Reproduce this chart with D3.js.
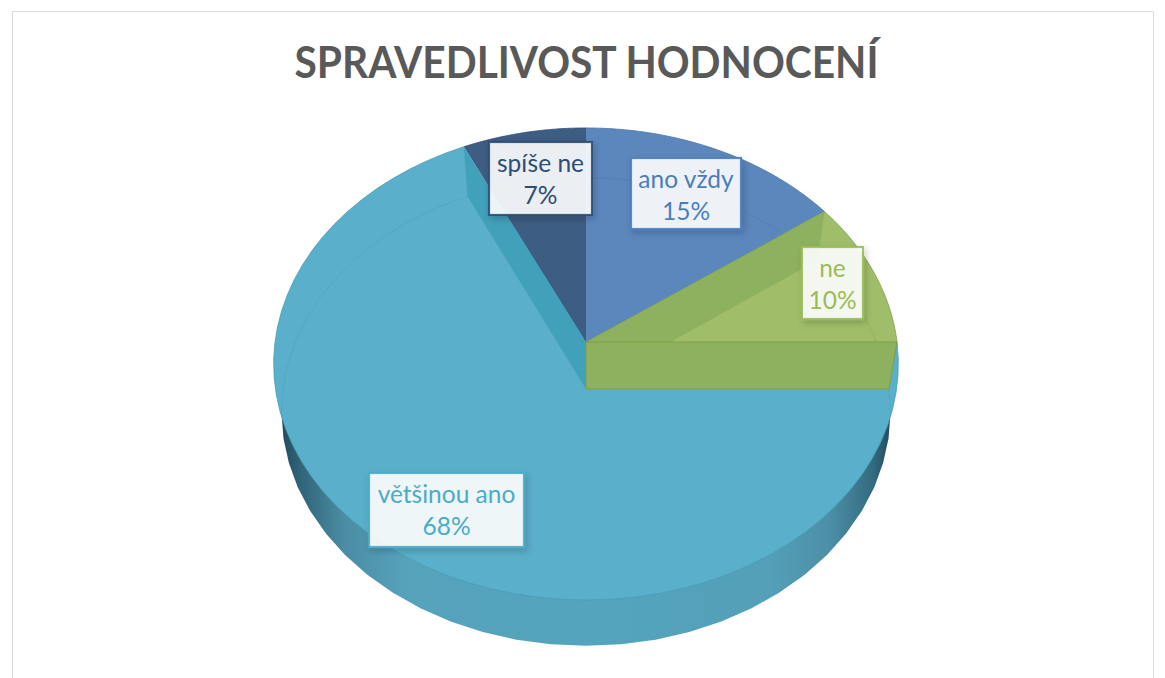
<!DOCTYPE html>
<html><head><meta charset="utf-8">
<script src="https://cdn.jsdelivr.net/npm/d3@7/dist/d3.min.js"></script>
<style>html,body{margin:0;padding:0;background:#fff}svg{display:block}text{font-family:Lato,"Open Sans",sans-serif}</style>
</head><body><svg id="c" width="1165" height="678"></svg>
<script>
const title = "SPRAVEDLIVOST HODNOCENÍ";
const categories = ["ano vždy","ne","většinou ano","spíše ne"];
const values = [15,10,68,7];
const topColors = ["#5c87bd","#a0be69","#5aafca","#3e5d82"];
const wallColors = ["#557fb3","#8db15f","#41a0ba","#3e5d82"];
const edgeColors = ["#4a76ab","#7f9f45","#4a9db6","#2f4f78"];
const labelColors = ["#4a7ebb","#9bbb59","#4bacc6","#2c4d75"];
const labelBoxes = [[631,158,110,71],[802,247,61,72],[369,473,155,74],[489,142,103,73]];

const svg = d3.select("#c");
const defs = svg.append("defs");
const H = 678;

// projective planes of the tilted disc: top surface and bottom surface
const cx = 586;
const topPlane = {cy:342, b:311, a:234, k:0.0932};
const botPlane = {cy:389, b:303, a:231.7, k:0.098};
const project = (p, angle, r=1) => {
  const u = r*Math.sin(angle), v = r*Math.cos(angle), d = 1+p.k*v;
  return [cx + p.b*u/d, p.cy - p.a*v/d];
};
const pie = d3.pie().value(d=>d).sort(null);
const arcs = pie(values);
const line = d3.line();
const rim = (p,a0,a1) => d3.range(0,61).map(i=>project(p,a0+(a1-a0)*i/60));
const wedgePath = (p,a0,a1) => line([project(p,0,0),...rim(p,a0,a1)])+"Z";

// frame
svg.append("path").attr("d",`M12.5,${H}V11.5H1153.5V${H}`).attr("fill","none").attr("stroke","#d9d9d9").attr("stroke-width",1);

// title
svg.append("text").attr("x",586.5).attr("y",77.5).attr("text-anchor","middle")
  .attr("font-size",44).attr("font-weight",700).attr("fill","#595959")
  .attr("textLength",584).attr("lengthAdjust","spacingAndGlyphs").text(title);

// outer wall gradient
const grad = defs.append("linearGradient").attr("id","wall").attr("gradientUnits","userSpaceOnUse")
  .attr("x1",cx-305).attr("x2",cx+305).attr("y1",0).attr("y2",0);
[[0,"#234a5c"],[0.03,"#2f6378"],[0.1,"#4a8ba2"],[0.2,"#55a2bb"],[0.5,"#54a4bd"],[0.8,"#53a0b8"],[0.9,"#4c8fa6"],[0.97,"#336b80"],[1,"#234a5c"]]
  .forEach(([o,c])=>grad.append("stop").attr("offset",o).attr("stop-color",c));
svg.append("path").attr("d",line(rim(botPlane,0,2*Math.PI))+"Z").attr("fill","url(#wall)");

// top surfaces
const clipG = defs.append("g");
arcs.forEach((d,i)=>{
  clipG.append("clipPath").attr("id","top"+i).append("path").attr("d",wedgePath(topPlane,d.startAngle,d.endAngle));
});
svg.selectAll("path.top").data(arcs).join("path").attr("class","top")
  .attr("d",d=>wedgePath(topPlane,d.startAngle,d.endAngle))
  .attr("fill",(d,i)=>topColors[i]);

// bottom disc seen through the translucent top
const ghost = (a0,a1,col,i) => svg.append("path").attr("d",line(rim(botPlane,a0,a1)))
  .attr("fill","none").attr("stroke",col).attr("stroke-width",1).attr("clip-path",`url(#top${i})`);
arcs.forEach((d,i)=>ghost(d.startAngle,d.endAngle,d3.color(edgeColors[i]).copy({opacity:0.35}),i));

// radial walls visible through the tops
const radial = (angle)=>{
  const a=project(topPlane,angle,0), b=project(topPlane,angle), c=project(botPlane,angle), e=project(botPlane,angle,0);
  return line([a,b,c,e])+"Z";
};
svg.append("path").attr("d",radial(arcs[1].startAngle)).attr("fill",wallColors[1]).attr("clip-path","url(#top1)");
svg.append("path").attr("d",radial(arcs[2].endAngle)).attr("fill",wallColors[2]).attr("clip-path","url(#top2)");
svg.append("path").attr("d",radial(arcs[1].endAngle)).attr("fill",wallColors[1]).attr("stroke",edgeColors[1]).attr("stroke-width",1);

// slice edges
arcs.forEach((d,i)=>{
  svg.append("path").attr("d",line(rim(topPlane,d.startAngle,d.endAngle))).attr("fill","none")
    .attr("stroke",edgeColors[i]).attr("stroke-width",1).attr("stroke-opacity",0.8);
});
svg.append("path").attr("d",line([project(topPlane,arcs[1].startAngle),project(topPlane,0,0)]))
  .attr("stroke",edgeColors[1]).attr("stroke-opacity",0.7).attr("fill","none");

// labels
const shadow = defs.append("filter").attr("id","sh").attr("x","-20%").attr("y","-20%").attr("width","150%").attr("height","150%");
shadow.append("feDropShadow").attr("dx",2).attr("dy",3).attr("stdDeviation",3.5).attr("flood-color","#000").attr("flood-opacity",0.22);
const fmt = d3.format(".0%");
const total = d3.sum(values);
const labels = svg.selectAll("g.lab").data(arcs).join("g").attr("class","lab")
  .attr("transform",(d,i)=>`translate(${labelBoxes[i][0]},${labelBoxes[i][1]})`);
labels.append("rect").attr("x",0).attr("y",0)
  .attr("width",(d,i)=>labelBoxes[i][2]).attr("height",(d,i)=>labelBoxes[i][3])
  .attr("fill","#fff").attr("fill-opacity",0.89).attr("stroke",(d,i)=>labelColors[i]).attr("stroke-width",2.2).attr("stroke-opacity",0.9)
  .attr("filter","url(#sh)");
labels.append("text").attr("text-anchor","middle").attr("font-size",24.5)
  .attr("x",(d,i)=>labelBoxes[i][2]/2).attr("y",30).attr("fill",(d,i)=>labelColors[i])
  .text((d,i)=>categories[i]);
labels.append("text").attr("text-anchor","middle").attr("font-size",24.5)
  .attr("x",(d,i)=>labelBoxes[i][2]/2).attr("y",62).attr("fill",(d,i)=>labelColors[i])
  .text(d=>fmt(d.value/total));
</script></body></html>
